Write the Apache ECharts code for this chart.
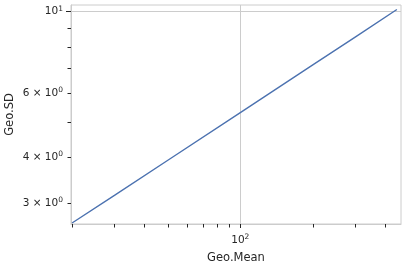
<!DOCTYPE html>
<html><head><meta charset="utf-8">
<script src="https://cdn.jsdelivr.net/npm/echarts@6/dist/echarts.min.js"></script>
<style>html,body{margin:0;padding:0;background:#fff}#c{width:405px;height:270px}</style>
</head><body><div id="c"></div>
<script>
// Data
const geoMean = [20, 30, 50, 100, 200, 300, 447];
const geoSD   = [2.65, 3.15, 3.93, 5.30, 7.15, 8.52, 10.13];
// Tick values and labels (mantissa, exponent)
const xMajorTicks = [100];
const xMajorLabels = {100: ['10', '2']};
const xMinorTicks = [20, 30, 40, 50, 60, 70, 80, 90, 200, 300, 400];
const yMajorTicks = [10];
const yMajorLabels = {10: ['10', '1']};
const yMinorTicks = [3, 4, 5, 6, 7, 8, 9];
const yMinorLabelTicks = [3, 4, 6];
const yMinorLabels = {3: ['3 \u00d7 10', '0'], 4: ['4 \u00d7 10', '0'], 6: ['6 \u00d7 10', '0']};

const xMin = 19.8, xMax = 465, yMin = 2.633, yMax = 10.42;
const gridCol = '#cccccc', textCol = '#262626';
const font = 'DejaVu Sans';
const rich = {
  a: {fontFamily: font, fontSize: 10.5, color: textCol},
  s: {fontFamily: font, fontSize: 7.5, color: textCol, verticalAlign: 'bottom', padding: [0, 0, 6, 0]}
};
const fmt = (table) => v => { const t = table[Math.round(v)]; return t ? '{a|' + t[0] + '}{s|' + t[1] + '}' : ''; };

const chart = echarts.init(document.getElementById('c'), null, {renderer: 'canvas'});
const baseX = {type: 'log', min: xMin, max: xMax, position: 'bottom', gridIndex: 0};
const baseY = {type: 'log', min: yMin, max: yMax, position: 'left', gridIndex: 0};
chart.setOption({
  animation: false,
  grid: {left: 71, right: 4, top: 5, bottom: 46, show: true, borderColor: gridCol, borderWidth: 1,
    containLabel: false, outerBoundsMode: 'none'},
  xAxis: [
    Object.assign({}, baseX, {
      name: 'Geo.Mean', nameLocation: 'middle', nameGap: 28,
      nameTextStyle: {fontFamily: font, fontSize: 11.5, color: textCol},
      axisLine: {show: true, lineStyle: {color: gridCol, width: 1}},
      axisTick: {show: true, length: 4, customValues: xMajorTicks, lineStyle: {color: textCol, width: 1}},
      axisLabel: {show: true, customValues: xMajorTicks, margin: 9, rich: rich, formatter: fmt(xMajorLabels)},
      splitLine: {show: true, lineStyle: {color: gridCol, width: 1}}
    }),
    Object.assign({}, baseX, {
      axisLine: {show: false},
      axisTick: {show: true, length: 3.5, customValues: xMinorTicks, lineStyle: {color: textCol, width: 1}},
      axisLabel: {show: false},
      splitLine: {show: false}
    })
  ],
  yAxis: [
    Object.assign({}, baseY, {
      name: 'Geo.SD', nameLocation: 'middle', nameGap: 55,
      nameTextStyle: {fontFamily: font, fontSize: 11.5, color: textCol},
      axisLine: {show: true, lineStyle: {color: gridCol, width: 1}},
      axisTick: {show: true, length: 5, customValues: yMajorTicks, lineStyle: {color: textCol, width: 1}},
      axisLabel: {show: true, customValues: yMajorTicks, margin: 8, rich: rich, formatter: fmt(yMajorLabels)},
      splitLine: {show: true, lineStyle: {color: gridCol, width: 1}}
    }),
    Object.assign({}, baseY, {
      axisLine: {show: false},
      axisTick: {show: true, length: 3.5, customValues: yMinorTicks, lineStyle: {color: textCol, width: 1}},
      axisLabel: {show: true, customValues: yMinorLabelTicks, margin: 8, rich: rich, formatter: fmt(yMinorLabels)},
      splitLine: {show: false}
    })
  ],
  series: [{
    type: 'line', xAxisIndex: 0, yAxisIndex: 0,
    data: geoMean.map((x, i) => [x, geoSD[i]]),
    showSymbol: false, symbol: 'none',
    lineStyle: {color: '#4c72b0', width: 1.4},
    silent: true
  }]
});
</script></body></html>
